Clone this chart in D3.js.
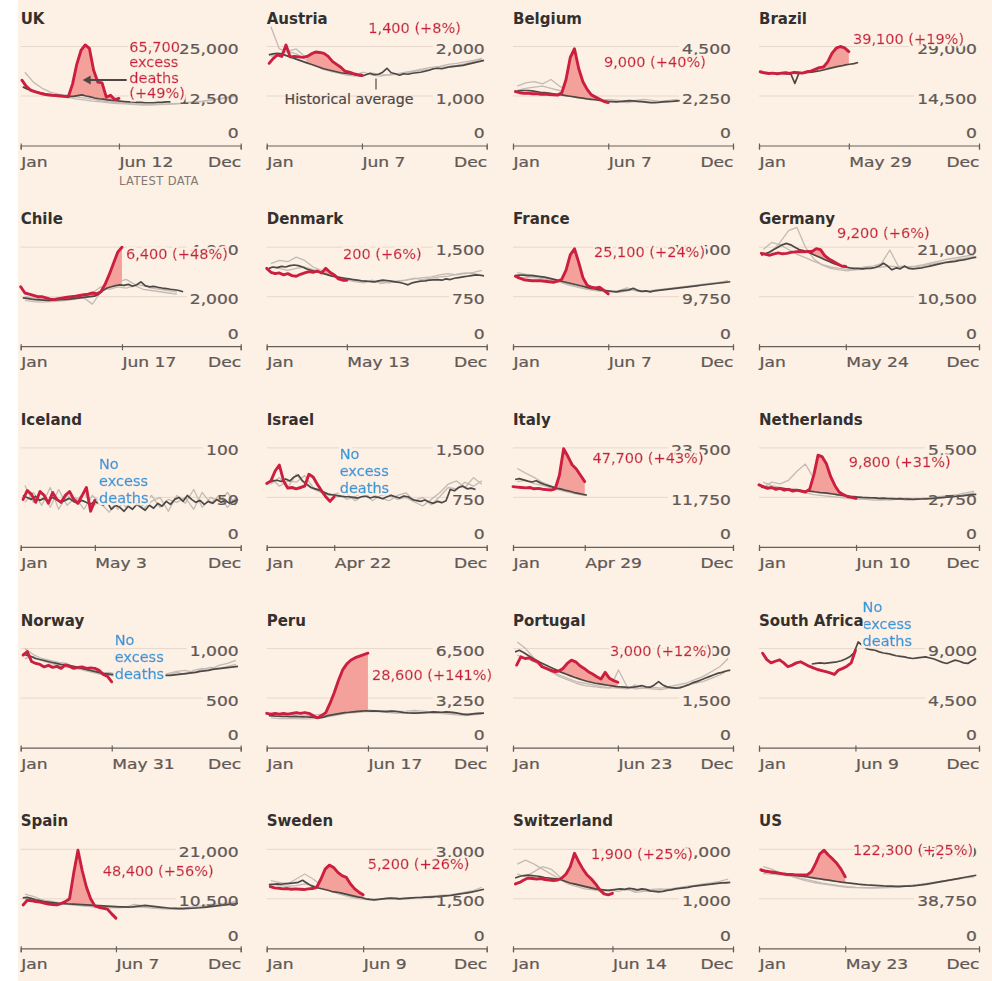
<!DOCTYPE html>
<html><head><meta charset="utf-8">
<script src="https://cdn.jsdelivr.net/npm/d3@7"></script>
<style>
html,body{margin:0;padding:0;background:#fff;}
svg{display:block;}
.ttl{font-family:"DejaVu Sans";font-weight:bold;font-size:15px;fill:#33302e;paint-order:stroke;stroke:#fdf0e5;stroke-width:3px;stroke-linejoin:round;}
.tk{font-family:"DejaVu Sans";font-size:14.5px;fill:#5f5955;stroke:#5f5955;stroke-width:0.25px;}
.ann{font-family:"DejaVu Sans";font-size:14.5px;stroke-width:0.35px;}
.hist{font-family:"DejaVu Sans";font-size:14.2px;fill:#4d4845;stroke:#4d4845;stroke-width:0.2px;}
.latest{font-family:"DejaVu Sans";font-size:11.5px;letter-spacing:0.4px;fill:#807973;}
</style></head><body>
<svg id="chart" width="992" height="981"></svg>
<script>
// ---------------- DATA ----------------
const countries = ["UK","Austria","Belgium","Brazil","Chile","Denmark","France","Germany","Iceland","Israel","Italy","Netherlands","Norway","Peru","Portugal","South Africa","Spain","Sweden","Switzerland","US"];
const latestLabel = ["Jun 12","Jun 7","Jun 7","May 29","Jun 17","May 13","Jun 7","May 24","May 3","Apr 22","Apr 29","Jun 10","May 31","Jun 17","Jun 23","Jun 9","Jun 7","Jun 9","Jun 14","May 23"];
const axisMax = [25000,2000,4500,29000,4000,1500,19500,21000,100,1500,23500,5500,1000,6500,3000,9000,21000,3000,2000,77500];
const hasExcess = [true,true,true,true,true,true,true,true,false,false,true,true,false,true,true,false,true,true,true,true];
const annLines = [
  ["65,700","excess","deaths","(+49%)"],["1,400 (+8%)"],["9,000 (+40%)"],["39,100 (+19%)"],
  ["6,400 (+48%)"],["200 (+6%)"],["25,100 (+24%)"],["9,200 (+6%)"],
  ["No","excess","deaths"],["No","excess","deaths"],["47,700 (+43%)"],["9,800 (+31%)"],
  ["No","excess","deaths"],["28,600 (+141%)"],["3,000 (+12%)"],["No","excess","deaths"],
  ["48,400 (+56%)"],["5,200 (+26%)"],["1,900 (+25%)"],["122,300 (+25%)"]
];
// weekly 2020 deaths, last value = latest date
const red2020 = [
  [16500,15000,14000,13600,13300,13000,12800,12700,12600,12500,12400,12300,15500,20500,24000,25400,24500,19000,16000,15800,12200,12700,11600,11900],
  [1660,1760,1830,1800,2030,1790,1800,1790,1780,1800,1850,1890,1880,1860,1800,1700,1640,1580,1500,1480,1450,1430,1420],
  [2450,2400,2370,2380,2350,2360,2330,2340,2320,2300,2290,2400,3000,4000,4400,3500,2900,2550,2300,2200,2100,2000,1950],
  [21600,21300,21100,21200,21000,21200,21300,21100,21400,21300,21200,21600,21800,22300,22800,23000,24500,27000,28500,29000,28600,27500],
  [2400,2150,2100,2050,2000,2000,1950,1900,1880,1920,1950,1980,2000,2020,2050,2080,2100,2150,2120,2200,2500,2900,3350,3800,4000],
  [1180,1120,1100,1110,1080,1100,1070,1060,1090,1110,1130,1120,1140,1110,1180,1120,1080,1020,1000,1000],
  [13800,13400,13100,13000,12900,12900,12900,12800,12700,12600,12800,13200,15000,18000,19200,16500,13500,12000,11600,11500,11600,11000,10300],
  [19700,19500,19300,19600,19800,19600,19700,19900,20000,20100,20000,20100,20100,20700,20500,19200,18500,18000,17500,17000,16900],
  [48,57,53,45,56,52,44,55,48,45,52,56,48,44,52,60,36,47],
  [960,1000,1150,1240,1000,890,900,880,900,920,1100,1060,950,850,760,690,760],
  [14300,14200,14100,14000,14100,13800,13900,13700,13600,13500,13800,17000,23300,21500,19500,18500,17000,15500],
  [3450,3350,3250,3300,3200,3250,3150,3200,3100,3150,3100,3050,3200,4000,5100,5000,4600,3900,3400,3050,2900,2800,2750,2700],
  [935,970,870,850,840,815,830,810,820,800,835,820,800,810,815,800,805,800,780,740,720,665],
  [2250,2200,2250,2200,2250,2200,2250,2300,2250,2300,2250,2100,1950,2100,2300,2900,3600,4400,5100,5500,5750,5900,6000,6100,6200],
  [2500,2750,2700,2720,2650,2600,2450,2400,2350,2300,2320,2400,2550,2650,2600,2480,2400,2300,2230,2150,2080,2280,2100,2030,1980],
  [8580,8000,7700,7850,7980,7700,7350,7500,7700,7800,7600,7400,7250,7100,7000,6900,6800,6650,7050,7200,7400,7700,8850],
  [9200,10200,10100,9900,9800,9600,9400,9300,9200,9500,9900,10500,16000,20800,16500,13000,10500,9000,8700,8500,8300,7300,6400],
  [1870,1830,1820,1800,1810,1790,1800,1790,1780,1800,1810,1850,2100,2400,2520,2450,2300,2200,2150,1950,1800,1700,1620],
  [1300,1330,1380,1420,1410,1400,1410,1390,1380,1370,1380,1420,1500,1650,1920,1750,1600,1480,1400,1300,1180,1100,1080,1110],
  [61500,60500,60000,59500,59000,58500,58000,57800,57600,57500,57400,57500,60000,66500,74000,76800,73000,70000,66500,62000,56000]
];
// first week index of the historical average series
const avgStartWeek = [0,0,0,0,0,0,0,0,0,0,0,0,0,0,0,12,0,0,0,0];
// weekly historical average
const histAvg = [
  [14800,14300,13900,13600,13300,13100,12900,12800,12700,12600,12500,12400,12400,12600,12800,12500,12300,12000,11800,11700,11500,11400,11300,11200,11100,11000,11000,10900,10900,10800,10800,10800,10900,10900,11000,11000],
  [1830,1850,1860,1850,1820,1790,1760,1730,1700,1670,1640,1610,1580,1550,1530,1510,1490,1470,1460,1450,1440,1420,1400,1430,1460,1430,1440,1480,1560,1470,1450,1420,1450,1440,1460,1470,1480,1500,1520,1550,1560,1550,1570,1590,1600,1610,1620,1640,1660,1680,1700,1720],
  [2450,2480,2500,2500,2480,2450,2420,2400,2380,2350,2320,2300,2270,2240,2210,2180,2150,2120,2100,2080,2050,2030,2000,1990,1980,2000,2020,2040,2030,2010,1990,1970,1950,1950,1960,1980,1990,2000,2020,2040],
  [21400,21300,21200,21200,21100,21100,21000,21100,18200,21300,21300,21400,21500,21700,21900,22200,22500,22800,23100,23300,23600,23800,24000,24300],
  [1950,1930,1900,1880,1870,1860,1850,1860,1870,1880,1890,1900,1920,1940,1960,1980,2000,2020,2100,2250,2350,2400,2450,2480,2460,2500,2420,2480,2600,2450,2400,2420,2380,2350,2330,2300,2280,2250,2200],
  [1180,1200,1190,1210,1200,1220,1230,1220,1200,1170,1150,1130,1120,1100,1080,1060,1050,1040,1030,1020,1010,1000,990,985,980,975,990,1000,995,985,975,965,950,930,960,975,985,990,1000,1005,1010,1000,1020,1010,1030,1040,1050,1060,1070,1080,1075,1065],
  [13900,14000,14000,13900,13900,13800,13700,13600,13400,13200,13000,12800,12600,12400,12200,12000,11800,11600,11400,11300,11100,11000,10900,10800,10700,10900,11000,11100,11400,11000,10800,10900,10700,10900,11000,11100,11200,11300,11400,11500,11600,11700,11800,11900,12000,12100,12200,12300,12400,12500,12600,12700],
  [19300,19600,20000,20500,21000,21500,21800,21500,21000,20500,20300,20000,19600,19200,18800,18400,18000,17600,17300,17000,16800,16600,16500,16500,16400,16500,16500,16700,17000,17600,17000,16200,16600,16400,17000,16500,16400,16500,16600,16800,17000,17200,17400,17600,17800,17900,18000,18200,18300,18500,18700,18900],
  [52,50,48,51,47,49,46,50,48,45,47,49,46,44,47,45,43,46,44,42,45,38,42,40,36,41,38,43,40,37,42,39,44,41,46,43,48,50,46,52,48,45,47,43,46,44,48,45,47,44,46,48],
  [980,1000,1010,990,1030,1000,1060,1090,1000,950,900,880,860,830,800,790,780,770,760,760,750,740,760,770,740,760,750,730,760,780,760,740,770,760,720,700,690,710,680,660,690,670,700,870,850,900,920,880,890,870],
  [16000,16200,15900,15600,15400,15700,15200,14800,14500,14200,13900,13700,13400,13200,12900,12700,12500,12300],
  [3300,3320,3300,3280,3250,3250,3230,3200,3180,3150,3120,3100,3080,3050,3020,3000,2970,2940,2900,2870,2840,2810,2790,2770,2750,2740,2730,2720,2700,2710,2690,2680,2670,2680,2660,2650,2640,2650,2660,2670,2680,2700,2720,2740,2760,2780,2800,2820,2850,2880,2900,2920],
  [950,930,920,900,890,880,870,860,850,840,835,830,820,810,800,790,780,770,760,750,745,740,735,730,725,720,720,715,715,715,720,720,725,725,730,730,735,740,745,750,755,760,770,775,780,790,795,800,805,810,815,820],
  [2100,2080,2060,2050,2060,2040,2050,2030,2020,2010,2000,1980,1950,2000,2100,2150,2200,2250,2300,2320,2350,2380,2400,2420,2400,2410,2400,2380,2360,2400,2380,2350,2300,2280,2270,2260,2280,2300,2320,2340,2330,2320,2350,2330,2300,2250,2200,2170,2200,2230,2250,2260],
  [2900,2950,2880,2800,2720,2650,2580,2520,2460,2400,2340,2280,2230,2180,2130,2090,2050,2010,1980,1950,1930,1910,1890,1870,1850,1840,1830,1820,1830,1850,1880,1840,1830,1900,2000,1900,1840,1820,1800,1810,1850,1900,1960,2000,2050,2100,2150,2200,2250,2280,2320,2350],
  [7600,7650,7700,7650,7700,7750,7800,7900,8050,8250,8600,9600,9300,9000,8900,8850,8700,8600,8550,8450,8350,8300,8250,8150,8100,8150,8200,8250,8150,8050,7900,7750,7650,7800,7950,7850,7700,7650,7900,8100],
  [10700,10800,10600,10300,10100,9900,9800,9700,9600,9500,9450,9400,9350,9300,9250,9200,9150,9100,9050,9000,8950,8900,8850,8800,8800,8750,8800,8900,9000,9100,9000,8900,8800,8700,8600,8500,8450,8400,8400,8450,8500,8550,8600,8700,8800,8900,9000,9100,9200,9300,9400,9500],
  [1930,1940,1950,1940,1960,1970,1980,2000,2060,1980,1900,1850,1820,1790,1760,1720,1700,1680,1650,1620,1590,1560,1540,1500,1480,1470,1480,1500,1510,1520,1510,1500,1510,1520,1530,1540,1540,1550,1550,1560,1570,1580,1590,1600,1620,1640,1660,1680,1700,1730,1760,1790],
  [1420,1450,1470,1480,1470,1460,1450,1430,1420,1410,1400,1380,1350,1320,1300,1280,1260,1240,1220,1200,1190,1180,1170,1180,1190,1200,1190,1210,1200,1180,1200,1190,1160,1150,1140,1150,1170,1180,1200,1210,1220,1230,1250,1260,1270,1280,1290,1300,1310,1320,1320,1330],
  [60500,60000,59500,59000,58600,58200,57800,57400,57000,56600,56200,55800,55300,54800,54300,53800,53300,52800,52300,51800,51400,51000,50600,50200,49900,49600,49400,49200,49000,48800,48700,48600,48500,48500,48600,48700,48900,49200,49600,50100,50600,51200,51800,52400,53000,53600,54200,54800,55400,56000,56600,57200]
];
// individual past years, fortnightly
const histYearA = [
  [18500,16000,14500,13500,13000,12700,12300,12000,11700,11300,11000,10800,10600,10500,10400,10400,10400,10500,10600,10800,11000,11200,11500,11800,12200,12800],
  [2400,1950,1900,1850,1750,1650,1550,1500,1460,1420,1400,1420,1460,1430,1420,1440,1470,1500,1520,1540,1580,1600,1620,1650,1700,1750],
  [2700,2850,2900,2800,3000,2700,2500,2350,2250,2150,2100,2080,2050,2000,2050,2100,2050,2000,2050,2100],
  [],
  [1850,1800,1780,1800,1820,1850,1900,1950,1700,2200,2500,2600,2700,2500,2450,2350,2300,2250,2200],
  [1250,1300,1280,1350,1300,1200,1150,1100,1050,1000,980,960,1000,950,970,990,1000,1020,1040,1050,1080,1100,1080,1100,1120,1150],
  [14500,14200,14000,13500,13200,12800,12300,11800,11400,11100,10900,10800,10600,10900,11200,10800,10900,11100,11300,11500,11700,11900,12100,12300,12600,12900],
  [19500,20000,22000,24500,25200,21000,18500,17200,16500,16200,16000,16300,16800,17000,17500,20400,17000,16800,17000,17300,17700,18100,18500,18800,19100,19400],
  [62,45,55,40,58,42,50,38,52,44,35,48,40,55,38,46,50,36,52,44,58,40,50,46,55,42],
  [950,1050,900,1100,950,880,820,780,820,720,760,850,700,780,800,720,750,680,620,720,820,950,1000,900,1050,950],
  [18600,17500,16500,15300,14500,13800,13200,12700,12300],
  [3300,3600,3500,3700,4200,4600,3800,3300,3000,2850,2750,2700,2650,2700,2650,2600,2650,2700,2650,2700,2750,2800,2850,2900,3000,3100],
  [1000,940,900,880,860,850,800,780,760,740,730,720,710,720,700,720,740,730,760,740,780,800,790,830,850,880],
  [1950,1900,1920,1900,1880,1900,1950,2050,2150,2250,2300,2350,2380,2350,2300,2250,2300,2350,2300,2250,2250,2200,2150,2100,2150,2200],
  [3200,3000,2700,2500,2300,2150,2050,1950,1880,1850,1820,1800,2350,1850,1780,1800,1830,1800,1850,1900,1950,2050,2150,2300,2450,2700],
  [],
  [11500,11000,10300,9800,9500,9300,9100,9000,8900,8700,8600,8700,8800,9300,9000,8600,8500,8300,8300,8400,8500,8700,8900,9200,9500,10000],
  [2050,2000,1950,2100,2250,2100,1900,1800,1700,1600,1550,1500,1480,1500,1520,1480,1500,1530,1550,1580,1600,1620,1650,1700,1750,1850],
  [1700,1780,1700,1600,1500,1400,1300,1250,1200,1180,1150,1170,1150,1200,1130,1150,1150,1180,1200,1220,1250,1270,1300,1320,1350,1400],
  [64000,62000,59000,57000,55000,53000,51500,50500,49500,48500,47800,47500,47300,47200,47300,47500,47800,48500,49300,50200,51200,52300,53400,54500,55600,57000]
];
const histYearB = [
  [15000,14000,13200,12800,12500,12200,11800,11500,11200,11000,10800,10600,10500,10300,10200,10200,10300,10400,10500,10700,10900,11100,11400,11700,12000,12500],
  [1800,1850,1900,1950,1800,1700,1600,1520,1480,1450,1430,1480,1420,1400,1430,1450,1480,1510,1550,1580,1600,1640,1660,1690,1720,1760],
  [2500,2600,2650,2700,2600,2500,2400,2300,2200,2100,2050,2000,1980,1950,2000,2000,1950,1980,2000,2050],
  [],
  [2000,1950,1900,1920,1950,1980,2000,2050,2150,2400,2300,2400,2350,2450,2300,2250,2200,2150,2100],
  [1200,1180,1150,1180,1200,1160,1120,1080,1050,1020,1000,990,970,980,960,980,1000,1030,1010,1030,1050,1060,1090,1110,1100,1080],
  [13300,13600,13500,13300,13000,12600,12100,11700,11300,11000,10800,10700,10900,11500,10900,10700,11000,11200,11400,11600,11800,12000,12200,12400,12500,12600],
  [20500,22000,21500,20500,19500,18800,18000,17300,16800,16500,16300,16200,16400,16600,16800,17000,16800,16700,16900,17100,17400,17700,18000,18400,18700,19000],
  [45,55,42,60,38,52,46,55,40,48,52,38,50,45,42,52,40,48,45,50,38,55,44,52,40,50],
  [1050,920,1000,980,1080,900,840,800,760,800,700,780,800,740,700,780,820,700,750,640,760,900,880,980,920,1000],
  [15500,15800,15000,14600,14000,13500,13000,12600,12200],
  [3600,3400,3300,3200,3100,3000,2900,2850,2800,2750,2700,2650,2650,2600,2600,2650,2650,2600,2650,2700,2700,2750,2800,2850,2900,3000],
  [900,920,880,850,830,810,820,790,770,750,760,740,730,740,750,760,720,750,770,780,760,790,810,800,820,840],
  [2200,2150,2180,2150,2100,2120,2200,2300,2350,2400,2450,2500,2450,2400,2420,2380,2400,2450,2400,2350,2300,2250,2250,2200,2250,2300],
  [2800,2700,2600,2450,2300,2200,2100,2000,1950,1900,1850,1820,1800,1780,1900,1800,1780,1760,1800,1830,1880,1950,2000,2100,2200,2350],
  [],
  [10300,10500,10200,10000,9700,9400,9200,9000,8800,8700,8700,8600,8700,8800,8700,8600,8400,8400,8500,8600,8800,9000,9300,9400,9600,9800],
  [1950,1900,1880,1900,1950,1900,1850,1750,1650,1580,1520,1480,1460,1480,1500,1520,1490,1520,1540,1560,1580,1610,1640,1680,1720,1780],
  [1500,1450,1550,1650,1600,1450,1350,1280,1230,1200,1180,1160,1200,1180,1160,1170,1190,1200,1180,1220,1240,1260,1280,1300,1320,1340],
  [58500,58000,57500,56800,55500,54000,52500,51000,50000,49000,48200,47700,47500,47500,47700,48000,48400,49000,49700,50500,51400,52300,53200,54100,55100,56000]
];

// ---------------- LAYOUT ----------------
const W = 992, H = 981;
const colX = [20.7, 266.7, 513, 759], PW = 220, rowH = 200.7;
const annX = [108.6,101.6,91,94,105.3,76.3,81,78,78.3,73,79.5,89.8,94,105.3,97,103.6,82,101,78,94];
const annY = [51.5,33,67,44,58,58,56.5,37.5,67.5,58,62,65.5,43,77.5,53.5,10,73.5,66,56,52.5];
const BG = "#fdf0e5", RED = "#cc1f3f", PINK = "#f5a19b", BLUE = "#2e9ad6", DARK = "#4d4845", GREY = "#c3bbb4";
const SX = 1.18;

const svg = d3.select("#chart");
svg.append("rect").attr("width", W).attr("height", H).attr("fill", "#fff");
svg.append("rect").attr("x", 18).attr("width", W - 18).attr("height", H).attr("fill", BG);
const defs = svg.append("defs");

// halo filter for annotations (single text element, background-coloured outline)
const flt = defs.append("filter").attr("id", "halo").attr("x", "-10%").attr("y", "-30%").attr("width", "120%").attr("height", "160%");
flt.append("feMorphology").attr("in", "SourceAlpha").attr("operator", "dilate").attr("radius", 1.6).attr("result", "d");
flt.append("feFlood").attr("flood-color", BG).attr("result", "f");
flt.append("feComposite").attr("in", "f").attr("in2", "d").attr("operator", "in").attr("result", "h");
const fm = flt.append("feMerge");
fm.append("feMergeNode").attr("in", "h");
fm.append("feMergeNode").attr("in", "SourceGraphic");

const yearStart = new Date(2020, 0, 1), yearEnd = new Date(2020, 11, 31);
const fillStart = new Date(2020, 2, 7);
const parseD = d3.timeParse("%b %d %Y");
const dayToDate = d => d3.timeHour.offset(yearStart, Math.round(d * 24));
const fmt = d3.format(",");

function stext(parent, x, y, str, anchor) {
  return parent.append("text").attr("class", "tk").attr("text-anchor", anchor)
    .attr("transform", `translate(${x},${y}) scale(${SX},1)`).text(str);
}

countries.forEach((name, i) => {
  const col = i % 4, row = Math.floor(i / 4);
  const x0 = colX[col], top = row * rowH;
  const x = d3.scaleTime().domain([yearStart, yearEnd]).range([x0, x0 + PW]);
  const y = d3.scaleLinear().domain([0, axisMax[i]]).range([top + 145.5, top + 46.5]);
  const g = svg.append("g");
  const gGrid = g.append("g");
  const line = d3.line().x(d => x(d[0])).y(d => y(d[1]));

  const latest = parseD(latestLabel[i] + " 2020");
  const n = red2020[i].length;
  const redPts = red2020[i].map((v, k) => [d3.timeDay.offset(latest, -7 * (n - 1 - k)), v]);
  const avgPts = histAvg[i].map((v, k) => [dayToDate(3.5 + 7 * (avgStartWeek[i] + k)), v]);
  const gA = histYearA[i].map((v, k) => [dayToDate(7 + 14 * k), v]);
  const gB = histYearB[i].map((v, k) => [dayToDate(7 + 14 * k), v]);

  // past years
  [gA, gB].forEach(p => {
    if (p.length) g.append("path").attr("d", line(p)).attr("fill", "none")
      .attr("stroke", GREY).attr("stroke-width", 1.3).attr("stroke-linejoin", "round");
  });

  // excess fill
  if (hasExcess[i]) {
    const avgArea = d3.area().x(d => x(d[0])).y0(top - 40).y1(d => y(d[1]));
    defs.append("clipPath").attr("id", "ca" + i).append("path").attr("d", avgArea(avgPts));
    defs.append("clipPath").attr("id", "cs" + i).append("rect")
      .attr("x", x(fillStart)).attr("y", top - 40).attr("width", x0 + PW - x(fillStart)).attr("height", 220);
    const redArea = d3.area().x(d => x(d[0])).y0(y(0)).y1(d => y(d[1]));
    g.append("g").attr("clip-path", `url(#cs${i})`)
      .append("path").attr("clip-path", `url(#ca${i})`).attr("d", redArea(redPts)).attr("fill", PINK);
  }

  // historical average
  g.append("path").attr("d", line(avgPts)).attr("fill", "none").attr("stroke", DARK)
    .attr("stroke-width", 1.7).attr("stroke-linejoin", "round");
  // 2020
  g.append("path").attr("d", line(redPts)).attr("fill", "none").attr("stroke", RED)
    .attr("stroke-width", 2.9).attr("stroke-linejoin", "round").attr("stroke-linecap", "round");

  // x axis
  const labels = ["Jan", latestLabel[i], "Dec"];
  const ax = d3.axisBottom(x).tickValues([yearStart, latest, yearEnd]).tickSizeOuter(0).tickSize(4)
    .tickFormat((d, j) => labels[j]);
  const axg = g.append("g").attr("transform", `translate(0,${y(0)})`).call(ax);
  axg.select(".domain").attr("stroke", "#66605c").attr("stroke-width", 1.2);
  axg.selectAll(".tick line").attr("stroke", "#66605c").attr("stroke-width", 1.2).attr("y1", -2).attr("y2", 4);
  axg.selectAll(".tick text").attr("class", "tk").attr("fill", null).attr("font-size", null).attr("font-family", null)
    .attr("y", null).attr("dy", null)
    .attr("text-anchor", (d, j) => j === 2 ? "end" : "start")
    .attr("transform", `translate(0,21) scale(${SX},1)`);
  axg.attr("font-size", null).attr("font-family", null);

  // y tick labels + gridlines
  [axisMax[i], axisMax[i] / 2].forEach(v => {
    const t = stext(g, x0 + 218, y(v) + 7.5, fmt(v), "end");
    const w = t.node().getComputedTextLength() * SX;
    gGrid.append("line").attr("x1", x0).attr("x2", x0 + 218 - w - 3)
      .attr("y1", y(v)).attr("y2", y(v)).attr("stroke", "#e6d8cc").attr("stroke-width", 1);
  });
  stext(g, x0 + 218, y(0) - 7.5, "0", "end");

  // annotation
  const lh = annLines[i].length === 4 ? 15.5 : 17;
  const col2 = hasExcess[i] ? RED : BLUE;
  const at = g.append("text").attr("class", "ann").attr("fill", col2).attr("stroke", col2).attr("filter", "url(#halo)");
  annLines[i].forEach((s, k) => {
    at.append("tspan").attr("x", x0 + annX[i]).attr("y", top + annY[i] + k * lh).text(s);
  });

  // title
  g.append("text").attr("class", "ttl").attr("x", x0).attr("y", top + 23.5).text(name);

  if (name === "UK") {
    g.append("line").attr("x1", x0 + 106).attr("x2", x0 + 68).attr("y1", top + 80).attr("y2", top + 80)
      .attr("stroke", DARK).attr("stroke-width", 1.8);
    g.append("path").attr("d", `M${x0 + 62},${top + 80}L${x0 + 70},${top + 75.5}L${x0 + 70},${top + 84.5}Z`).attr("fill", DARK);
    g.append("text").attr("class", "latest").attr("x", x(latest)).attr("y", top + 185).text("LATEST DATA");
  }
  if (name === "Austria") {
    g.append("line").attr("x1", x0 + 109.3).attr("x2", x0 + 109.3).attr("y1", top + 78.5).attr("y2", top + 89.5)
      .attr("stroke", DARK).attr("stroke-width", 1.2);
    g.append("text").attr("class", "hist").attr("text-anchor", "middle").attr("x", x0 + 82.3).attr("y", top + 103.5)
      .text("Historical average");
  }
});
</script>
</body></html>
